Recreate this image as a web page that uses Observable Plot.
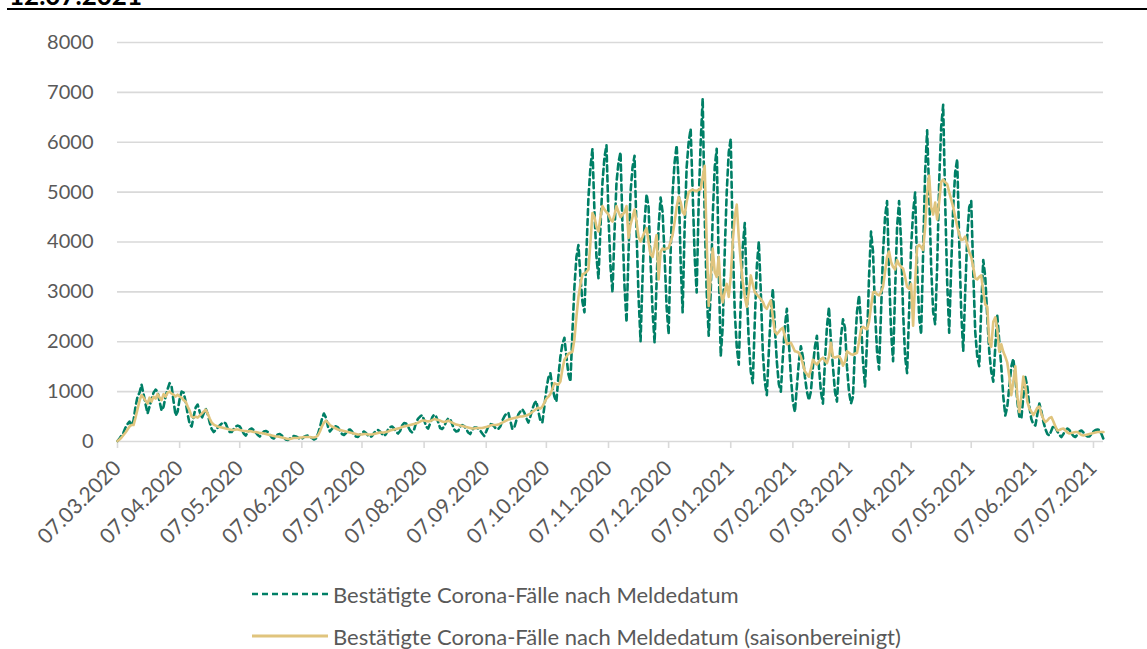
<!DOCTYPE html>
<html><head><meta charset="utf-8">
<script src="https://cdn.jsdelivr.net/npm/d3@7"></script>
<script src="https://cdn.jsdelivr.net/npm/@observablehq/plot@0.6"></script>
<style>
body{margin:0;background:#fff;font-family:Lato,"Open Sans",sans-serif;}
#wrap{position:relative;width:1147px;height:649px;overflow:hidden;background:#fff;}
#title{position:absolute;left:9px;top:-21px;font-weight:bold;font-size:26px;color:#000;white-space:nowrap;}
#rule{position:absolute;left:7px;right:0;top:8px;height:2px;background:#000;}
#chart{position:absolute;left:0;top:0;}
.legend{position:absolute;left:252px;height:30px;font-size:22px;color:#595959;display:flex;align-items:center;white-space:nowrap;}
.legend svg{margin-right:5px;}
</style></head>
<body><div id="wrap">
<div id="title">12.07.2021</div>
<div id="rule"></div>
<div id="chart"></div>
<div class="legend" style="top:579px"><svg width="76" height="6"><line x1="0" y1="3" x2="76" y2="3" stroke="#007f66" stroke-width="2.5" stroke-dasharray="6,4"/></svg><span id="lg1"></span></div>
<div class="legend" style="top:621px"><svg width="76" height="6"><line x1="0" y1="3" x2="76" y2="3" stroke="#E0C47D" stroke-width="3"/></svg><span id="lg2"></span></div>
</div>
<script>
const startDate = "2020-03-07";
const seriesNames = ["Bestätigte Corona-Fälle nach Meldedatum", "Bestätigte Corona-Fälle nach Meldedatum (saisonbereinigt)"];
const yTicks = [0, 1000, 2000, 3000, 4000, 5000, 6000, 7000, 8000];
const tickLabels = ["07.03.2020","07.04.2020","07.05.2020","07.06.2020","07.07.2020","07.08.2020","07.09.2020","07.10.2020","07.11.2020","07.12.2020","07.01.2021","07.02.2021","07.03.2021","07.04.2021","07.05.2021","07.06.2021","07.07.2021"];

// daily confirmed cases by reporting date (from 07.03.2020)
const rawCases = [
10,60,120,180,280,350,400,
320,420,700,900,980,1140,950,
750,560,700,850,980,1040,1000,
800,620,700,900,1050,1170,1100,
800,520,600,850,1000,980,800,
550,350,300,500,680,740,600,
460,560,660,550,380,250,190,
230,280,320,360,390,360,260,
190,190,250,300,320,300,240,
160,120,180,240,260,230,180,
130,100,150,200,210,190,140,
80,60,100,140,150,120,80,
40,30,60,90,110,100,80,
50,50,90,110,120,100,70,
40,60,150,280,450,560,480,
300,200,250,320,300,280,220,
150,130,170,230,240,200,140,
100,90,140,180,200,170,120,
90,110,170,220,230,200,150,
110,150,240,290,300,260,190,
160,210,320,370,360,300,220,
180,240,380,460,500,530,430,
300,260,360,480,540,500,390,
270,250,300,400,460,450,350,
240,200,210,300,330,310,250,
180,150,230,280,280,260,220,
160,110,200,300,350,340,300,
250,250,300,420,500,560,580,
420,250,280,420,540,600,650,
580,470,380,500,650,760,810,
600,420,380,700,1050,1280,1370,
1100,900,800,1300,1700,1950,2080,
1700,1350,1200,2200,3100,3700,3940,
3300,2800,2590,3800,4900,5500,5870,
4600,3700,3270,4300,5200,5700,5940,
4500,3500,2990,4200,5200,5600,5800,
4300,3100,2390,3800,5000,5500,5730,
4200,2900,2010,3300,4400,4960,4700,
3600,2600,1980,3200,4300,4890,4600,
3700,2700,2150,3800,5000,5600,5940,
5200,3600,2590,4300,5500,6000,6270,
5000,3700,2990,4800,6000,6880,4500,
3000,2120,3000,4500,5500,5870,3500,
1710,2300,3800,5000,5800,6070,4000,
2600,1900,1540,2800,3900,4380,3000,
2000,1400,1170,2400,3500,4010,3000,
1800,1200,930,1800,2600,3060,2300,
1600,1150,1000,1700,2300,2660,2000,
1300,800,590,1100,1600,1910,1700,
1300,1000,830,1000,1500,1900,2120,
1500,1000,760,1600,2300,2690,2000,
1500,1000,800,1500,2100,2450,2280,
1500,1000,760,900,1900,2600,2930,
2400,1600,1100,2000,3300,4210,3800,
2600,1800,1440,2600,3800,4500,4820,
3400,2200,1610,3000,4300,4820,4000,
2600,1700,1370,2600,3900,4600,4990,
3500,2500,2150,3800,5400,6240,5000,
3500,2600,2350,3500,5200,6300,6750,
4800,3200,2180,3500,4700,5400,5660,
4000,2600,1810,3000,4100,4700,4820,
3400,2200,1700,1510,2700,3640,3300,
2500,1800,1400,1200,1900,2520,2000,
1500,900,520,700,1100,1500,1660,
1300,800,500,460,900,1290,1100,
700,450,350,320,550,760,600,
400,250,150,120,220,320,280,
200,130,90,150,220,260,230,
160,110,90,140,200,220,180,
130,100,100,150,200,230,240,
230,150,50
];

// seasonally adjusted series
const adjustedCases = [
10,40,80,130,180,240,300,
330,330,480,650,820,930,880,
820,760,880,800,900,860,950,
880,830,950,900,980,1000,960,
940,900,940,900,880,830,800,
700,620,500,480,500,480,520,
560,600,640,560,460,380,340,
320,300,290,280,270,260,250,
240,230,230,240,240,230,220,
210,210,200,210,200,190,190,
180,170,170,160,150,140,130,
120,110,100,100,90,80,70,
60,50,50,60,70,70,70,
80,80,90,90,90,90,80,
80,90,120,200,300,380,420,
380,330,300,280,260,240,230,
220,210,200,190,180,170,160,
150,140,140,140,150,150,140,
140,140,150,160,170,180,180,
180,190,200,220,230,240,250,
260,270,290,300,310,320,330,
340,350,360,380,400,420,420,
410,400,410,430,450,440,430,
420,400,390,400,420,400,380,
360,340,330,320,310,300,290,
280,270,260,260,270,270,270,
270,280,290,300,320,330,330,
330,340,360,380,400,420,440,
450,460,470,480,490,500,500,
510,520,540,560,590,620,650,
680,660,700,780,860,900,950,
1050,1170,1150,1140,1200,1450,1640,
1700,1760,1780,1800,2050,2500,2900,
3150,3350,3370,3400,3450,4000,4580,
4500,4300,4210,4500,4720,4650,4600,
4550,4450,4410,4550,4720,4600,4500,
4550,4600,4720,4080,4350,4500,4650,
4400,4100,4010,4100,4200,4280,4000,
3750,3700,3900,4140,3250,3800,3870,
3850,3870,3880,4000,4140,4400,4700,
4900,4800,4600,4550,4800,5000,5030,
5050,5030,5020,5050,5060,5300,5530,
4000,2720,3300,3870,3400,3300,3700,
3000,2790,3000,3160,2900,3300,4000,
4500,4750,4100,3600,3200,2900,2700,
3000,3330,3150,2990,2950,2900,2860,
2800,2700,2660,2750,2830,2500,2200,
2150,2200,2250,2280,2100,1950,1970,
1980,1900,1810,1800,1780,1700,1550,
1410,1350,1300,1450,1640,1580,1540,
1600,1650,1680,1620,1570,1700,1980,
1700,1680,1700,1710,1650,1520,1600,
1810,1780,1750,1740,1760,1780,2000,
2250,2300,2270,2250,2400,2700,2990,
3000,2950,2930,3000,3100,3400,3700,
3810,3600,3500,3450,3640,3550,3500,
3470,3300,3100,3060,3160,2320,3200,
3900,3940,3900,3840,4300,5000,5330,
4700,4550,4790,4450,4800,5200,5250,
5200,5160,5000,4850,4700,4500,4310,
4150,4040,4050,4110,3950,3800,3700,
3500,3270,3250,3300,3330,3000,2750,
2700,2000,1900,2400,2490,2250,1800,
1950,1800,1700,1580,1300,930,1200,
1510,900,590,900,1300,1100,800,
660,600,530,600,680,700,550,
450,390,420,470,490,400,300,
220,230,250,260,220,180,160,
170,180,190,190,160,130,120,
130,140,150,160,170,180,190,
190,190,190
];

const start = new Date(startDate + "T00:00:00Z");
const dayMs = 86400000;
const data = rawCases.map((v, i) => ({date: new Date(+start + i * dayMs), raw: v, adj: adjustedCases[i]}));
const parseLabel = s => { const [d, m, y] = s.split("."); return new Date(Date.UTC(+y, +m - 1, +d)); };
const tickDates = tickLabels.map(parseLabel);
const labelOf = new Map(tickDates.map((d, i) => [+d, tickLabels[i]]));
const end = new Date(+start + (rawCases.length - 1) * dayMs);

const chart = Plot.plot({
  width: 1147,
  height: 570,
  marginLeft: 117,
  marginRight: 44,
  marginTop: 42,
  marginBottom: 129,
  style: {fontFamily: "Lato, 'Open Sans', sans-serif", fontSize: "20px", color: "#595959", background: "transparent", overflow: "visible"},
  x: {type: "utc", domain: [start, end]},
  y: {domain: [0, 8000]},
  marks: [
    Plot.ruleY(yTicks, {stroke: "#d9d9d9", strokeWidth: 1.6}),
    Plot.axisY({ticks: yTicks, tickSize: 0, tickPadding: 24, label: null, tickFormat: d => String(d), fill: "#595959", fontSize: 20}),
    Plot.axisX({ticks: tickDates, tickFormat: d => labelOf.get(+d), tickRotate: -45, tickSize: 7, tickPadding: 16, label: null, stroke: "#d9d9d9", strokeWidth: 1.6, fill: "#595959", fontSize: 21}),
    Plot.line(data, {x: "date", y: "raw", stroke: "#007f66", strokeWidth: 2.6, strokeDasharray: "6,4"}),
    Plot.line(data, {x: "date", y: "adj", stroke: "#E0C47D", strokeWidth: 2.6})
  ]
});
document.getElementById("chart").appendChild(chart);
document.getElementById("lg1").textContent = seriesNames[0];
document.getElementById("lg2").textContent = seriesNames[1];
</script>
</body></html>
